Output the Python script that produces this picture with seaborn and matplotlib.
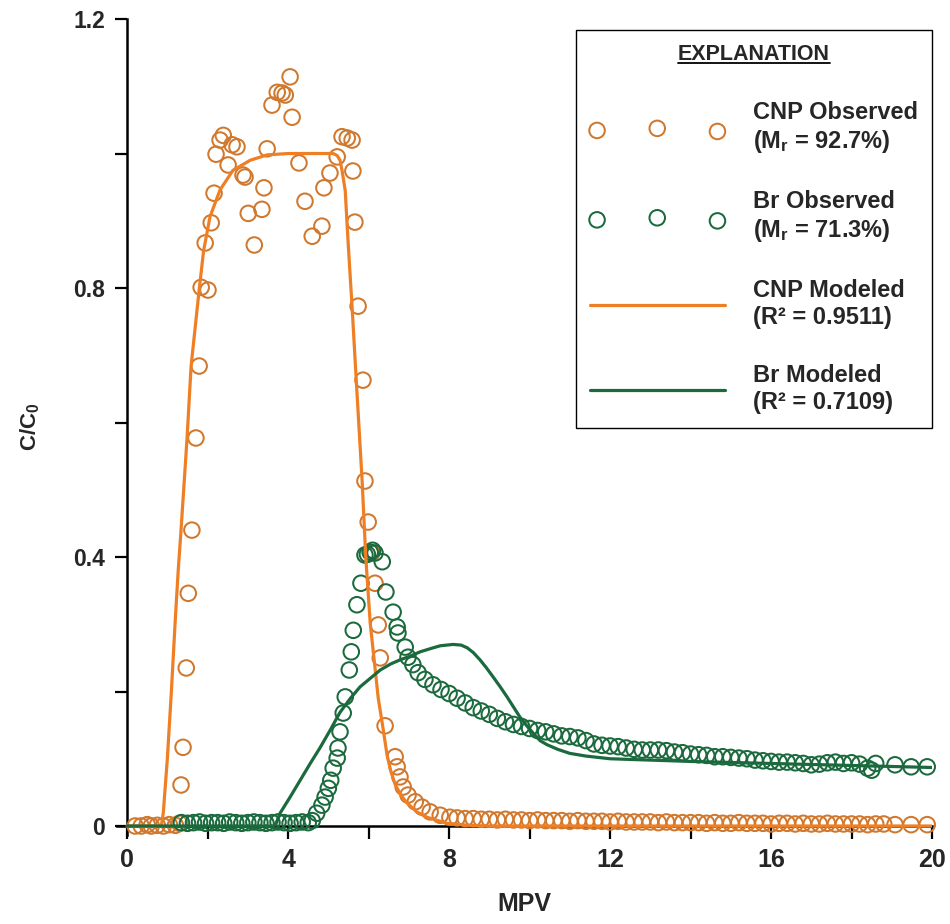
import numpy as np
import pandas as pd
import matplotlib
matplotlib.use("Agg")
import matplotlib.pyplot as plt
import seaborn as sns
from matplotlib.lines import Line2D
from matplotlib import font_manager

# ---------------- data ----------------
cnp_obs_x = [0.2, 0.35, 0.5, 0.6, 0.75, 0.9, 1.05, 1.2, 1.3,
             1.34, 1.39, 1.47, 1.52, 1.61, 1.71, 1.79, 1.84, 1.94, 2.01, 2.09, 2.16, 2.21,
             2.31, 2.39, 2.51, 2.61, 2.73, 2.88, 2.93, 3.01, 3.16, 3.35, 3.40, 3.48, 3.60,
             3.73, 3.85, 3.93, 4.05, 4.10, 4.27, 4.42, 4.60, 4.84, 4.89, 5.04, 5.22, 5.34,
             5.47, 5.59, 5.61, 5.66, 5.74, 5.86, 5.91, 5.99, 6.08, 6.16, 6.24, 6.29, 6.41,
             6.66, 6.71, 6.78, 6.86, 6.98, 7.16, 7.33, 7.53, 7.78, 8.02,
             8.2, 8.4, 8.6, 8.8, 9.0, 9.2, 9.4, 9.6, 9.8, 10.0, 10.2, 10.4, 10.6, 10.8,
             11.0, 11.2, 11.4, 11.6, 11.8, 12.0, 12.2, 12.4, 12.6, 12.8, 13.0, 13.2, 13.4,
             13.6, 13.8, 14.0, 14.2, 14.4, 14.6, 14.8, 15.0, 15.2, 15.4, 15.6, 15.8, 16.0,
             16.2, 16.4, 16.6, 16.8, 17.0, 17.2, 17.4, 17.6, 17.8, 18.0, 18.2, 18.4, 18.6,
             18.8, 19.08, 19.48, 19.88]
cnp_obs_y = [0.0, 0.0, 0.002, 0.0, 0.001, 0.0, 0.002, 0.001, 0.004,
             0.061, 0.117, 0.235, 0.346, 0.440, 0.577, 0.684, 0.801, 0.867, 0.797, 0.897, 0.941, 0.999,
             1.020, 1.027, 0.983, 1.013, 1.010, 0.968, 0.965, 0.911, 0.864, 0.917, 0.949, 1.007, 1.072,
             1.091, 1.090, 1.087, 1.114, 1.054, 0.986, 0.929, 0.877, 0.892, 0.949, 0.971, 0.995, 1.025,
             1.023, 1.020, 0.974, 0.898, 0.773, 0.663, 0.513, 0.452, 0.406, 0.361, 0.299, 0.250, 0.149,
             0.103, 0.088, 0.073, 0.058, 0.046, 0.036, 0.028, 0.021, 0.016, 0.013,
             0.012, 0.011, 0.011, 0.010, 0.010, 0.009, 0.010, 0.009, 0.009, 0.008, 0.009, 0.008, 0.008, 0.008,
             0.007, 0.008, 0.007, 0.007, 0.007, 0.006, 0.007, 0.006, 0.006, 0.006, 0.006, 0.005, 0.006,
             0.005, 0.005, 0.005, 0.005, 0.004, 0.005, 0.004, 0.004, 0.005, 0.004, 0.004, 0.004, 0.003,
             0.004, 0.004, 0.003, 0.004, 0.003, 0.003, 0.004, 0.003, 0.003, 0.003, 0.003, 0.002, 0.003,
             0.003, 0.002, 0.002, 0.002]

br_obs_x = [1.35, 1.5, 1.65, 1.8, 1.95, 2.1, 2.25, 2.4, 2.55, 2.7, 2.85, 3.0, 3.15, 3.3, 3.45,
            3.6, 3.75, 3.9, 4.05, 4.2, 4.35, 4.5, 4.6,
            4.71, 4.84, 4.92, 5.00, 5.06, 5.12, 5.22, 5.24, 5.29, 5.37, 5.42, 5.52, 5.57, 5.62,
            5.71, 5.81, 5.91, 5.97, 6.04, 6.10, 6.16, 6.34, 6.43, 6.61, 6.71, 6.73, 6.91, 6.98,
            7.10, 7.23,
            7.4, 7.6, 7.8, 8.0, 8.2, 8.4, 8.6, 8.8, 9.0, 9.2, 9.4, 9.6, 9.8, 10.0, 10.2, 10.4,
            10.6, 10.8, 11.0, 11.2, 11.4, 11.6, 11.8, 12.0, 12.2, 12.4, 12.6, 12.8, 13.0, 13.2,
            13.4, 13.6, 13.8, 14.0, 14.2, 14.4, 14.6, 14.8, 15.0, 15.2, 15.4, 15.6, 15.8, 16.0,
            16.2, 16.4, 16.6, 16.8, 17.0, 17.2, 17.4, 17.6, 17.8, 18.0, 18.2, 18.4, 18.5, 18.6,
            19.08, 19.48, 19.88]
br_obs_y = [0.005, 0.004, 0.005, 0.006, 0.004, 0.005, 0.005, 0.004, 0.006, 0.005, 0.004, 0.005, 0.006, 0.005, 0.004,
            0.005, 0.006, 0.005, 0.004, 0.005, 0.006, 0.005, 0.008,
            0.019, 0.031, 0.043, 0.056, 0.068, 0.086, 0.101, 0.116, 0.140, 0.168, 0.192, 0.232, 0.259, 0.291,
            0.329, 0.361, 0.403, 0.404, 0.407, 0.410, 0.406, 0.393, 0.348, 0.318, 0.296, 0.287, 0.266, 0.251,
            0.240, 0.228,
            0.218, 0.210, 0.203, 0.197, 0.190, 0.183, 0.176, 0.171, 0.166, 0.160, 0.155, 0.151, 0.148, 0.145, 0.142, 0.140,
            0.137, 0.134, 0.133, 0.131, 0.127, 0.122, 0.120, 0.119, 0.118, 0.116, 0.114, 0.113, 0.113, 0.113,
            0.112, 0.110, 0.109, 0.107, 0.106, 0.105, 0.103, 0.103, 0.102, 0.101, 0.100, 0.098, 0.097, 0.096,
            0.095, 0.095, 0.094, 0.093, 0.091, 0.092, 0.094, 0.095, 0.093, 0.094, 0.092, 0.086, 0.083, 0.093,
            0.091, 0.088, 0.088]

cnp_mod_x = [0.0, 0.85, 0.9, 1.0, 1.1, 1.2, 1.27, 1.34, 1.49, 1.59, 1.79, 1.9, 2.06, 2.31, 2.63,
             3.06, 3.48, 4.0, 5.12, 5.22, 5.29, 5.34, 5.42, 5.47, 5.53, 5.59, 5.71, 5.84, 5.93,
             6.04, 6.16, 6.24, 6.36, 6.46, 6.56, 6.66, 6.8, 6.96, 7.2, 7.45, 7.95, 8.5, 9.0, 20.0]
cnp_mod_y = [0.0, 0.0, 0.02, 0.10, 0.20, 0.31, 0.38, 0.44, 0.577, 0.684, 0.797, 0.855, 0.906, 0.946, 0.975,
             0.990, 0.998, 1.0, 1.0, 0.997, 0.990, 0.975, 0.945, 0.890, 0.830, 0.772, 0.646, 0.513, 0.400,
             0.302, 0.235, 0.190, 0.145, 0.105, 0.080, 0.062, 0.046, 0.034, 0.021, 0.013, 0.004, 0.001, 0.0, 0.0]

br_mod_x = [0.0, 3.65, 3.72, 3.8, 4.05, 4.3, 4.55, 4.8, 5.05, 5.29, 5.55, 5.79, 6.05, 6.29, 6.55,
            6.78, 7.05, 7.28, 7.55, 7.78, 8.1, 8.3, 8.45, 8.6, 8.77, 8.93, 9.09, 9.27, 9.44, 9.6,
            9.76, 9.93, 10.09, 10.26, 10.43, 10.7, 11.0, 11.4, 12.0, 13.0, 14.0, 16.0, 18.0, 20.0]
br_mod_y = [0.0, 0.0, 0.006, 0.019, 0.043, 0.068, 0.093, 0.117, 0.143, 0.169, 0.190, 0.207, 0.220, 0.232, 0.241,
            0.247, 0.253, 0.259, 0.264, 0.268, 0.270, 0.269, 0.265, 0.258, 0.247, 0.235, 0.222, 0.207, 0.192, 0.177,
            0.162, 0.149, 0.138, 0.127, 0.121, 0.114, 0.108, 0.104, 0.100, 0.098, 0.096, 0.093, 0.090, 0.087]

labels = ["CNP Observed\n(M$_\\mathbf{r}$ = 92.7%)",
          "Br Observed\n(M$_\\mathbf{r}$ = 71.3%)",
          "CNP Modeled\n(R\u00b2 = 0.9511)",
          "Br Modeled\n(R\u00b2 = 0.7109)"]

ORANGE = "#EF7F24"
ORANGE_EDGE = "#D0782E"
GREEN = "#1B6A3E"

# ---------------- styling ----------------
sns.set_theme(style="white")
plt.rcParams["font.family"] = ["Liberation Sans", "DejaVu Sans"]
plt.rcParams["mathtext.fontset"] = "custom"
plt.rcParams["mathtext.rm"] = "Liberation Sans:bold"
plt.rcParams["mathtext.bf"] = "Liberation Sans:bold"
plt.rcParams["mathtext.it"] = "Liberation Sans:bold"

installed = {f.name for f in font_manager.fontManager.ttflist}
NARROW = ["Liberation Sans Narrow", "Liberation Sans"] if "Liberation Sans Narrow" in installed \
    else ["Liberation Sans", "DejaVu Sans"]

fig = plt.figure(figsize=(9.5, 9.24), dpi=100)
ax = fig.add_axes([0.1232, 0.0966, 0.8579, 0.8828])

df_cnp = pd.DataFrame({"x": cnp_obs_x, "y": cnp_obs_y})
df_br = pd.DataFrame({"x": br_obs_x, "y": br_obs_y})
df_cnp_m = pd.DataFrame({"x": cnp_mod_x, "y": cnp_mod_y})
df_br_m = pd.DataFrame({"x": br_mod_x, "y": br_mod_y})

sns.scatterplot(data=df_cnp, x="x", y="y", ax=ax, marker="o", s=125,
                facecolor="none", edgecolor=ORANGE_EDGE, linewidth=1.45, clip_on=False, zorder=3)
h_cnp = ax.collections[-1]
sns.scatterplot(data=df_br, x="x", y="y", ax=ax, marker="o", s=125,
                facecolor="none", edgecolor=GREEN, linewidth=1.45, clip_on=False, zorder=3)
h_br = ax.collections[-1]
sns.lineplot(data=df_cnp_m, x="x", y="y", ax=ax, color=ORANGE, linewidth=2.3,
             estimator=None, sort=False, zorder=4)
h_cnp_m = ax.lines[-1]
sns.lineplot(data=df_br_m, x="x", y="y", ax=ax, color=GREEN, linewidth=2.3,
             estimator=None, sort=False, zorder=4)
h_br_m = ax.lines[-1]

ax.set_xlim(-0.25, 20)
ax.set_ylim(-0.013, 1.2)
for s in ["top", "right"]:
    ax.spines[s].set_visible(False)
for s in ["left", "bottom"]:
    ax.spines[s].set_color("black")
    ax.spines[s].set_linewidth(1.8)
    ax.spines[s].set_position(("data", 0))

ax.set_xticks([0, 4, 8, 12, 16, 20])
ax.set_xticks([2, 6, 10, 14, 18], minor=True)
ax.set_yticks([0, 0.4, 0.8, 1.2])
ax.set_yticks([0.2, 0.6, 1.0], minor=True)
ax.set_yticklabels(["0", "0.4", "0.8", "1.2"], fontsize=16.5, fontweight="bold")
ax.set_xticklabels(["0", "4", "8", "12", "16", "20"], fontsize=18, fontweight="bold",
                   family=NARROW)
ax.tick_params(which="both", direction="out", length=9, width=1.6, color="black",
               bottom=True, left=True)
ax.tick_params(axis="x", pad=7)
ax.tick_params(axis="y", pad=7)

ax.set_xlabel("MPV", fontsize=18, fontweight="bold", family=NARROW, labelpad=14)
ax.set_ylabel("C/C$_\\mathbf{0}$", fontsize=16, fontweight="bold", labelpad=22)

leg = ax.legend(handles=[h_cnp, h_br, h_cnp_m, h_br_m], labels=labels,
                loc="upper right", bbox_to_anchor=(1.0, 0.9865), borderaxespad=0,
                frameon=True, fancybox=False, edgecolor="black", framealpha=1,
                scatterpoints=3, numpoints=1, handlelength=5.7, handletextpad=1.2,
                labelspacing=1.5, borderpad=0.6,
                title="EXPLANATION",
                title_fontproperties={"weight": "bold", "size": 15.5},
                prop={"weight": "bold", "size": 17})
leg.get_frame().set_linewidth(1.0)

# underline the legend title
fig.canvas.draw()
renderer = fig.canvas.get_renderer()
bb = leg.get_title().get_window_extent(renderer)
inv = fig.transFigure.inverted()
(x0, y0), (x1, _) = inv.transform([(bb.x0, bb.y0 + 2), (bb.x1, bb.y0)])
fig.add_artist(Line2D([x0, x1], [y0, y0], transform=fig.transFigure,
                      color="black", linewidth=1.3))

fig.savefig("out.png", dpi=100)
